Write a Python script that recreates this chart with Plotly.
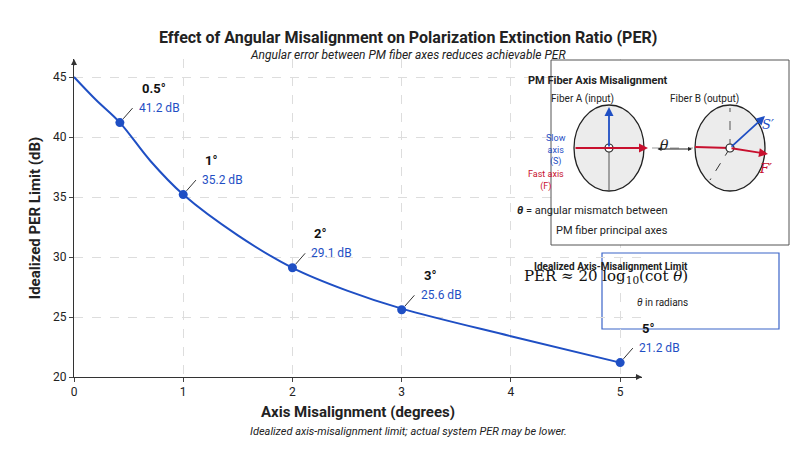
import plotly.graph_objects as go

# data
curve_x = [0, 0.2, 0.42, 0.7, 1.0, 1.5, 2.0, 2.5, 3.0, 4.0, 5.0]
curve_y = [45.0, 43.1, 41.2, 38.0, 35.2, 31.8, 29.1, 27.2, 25.7, 23.4, 21.2]
pt_x = [0.42, 1.0, 2.0, 3.0, 5.0]
pt_y = [41.2, 35.2, 29.1, 25.6, 21.2]
pt_deg = ["0.5°", "1°", "2°", "3°", "5°"]
pt_db = ["41.2 dB", "35.2 dB", "29.1 dB", "25.6 dB", "21.2 dB"]

BLUE = "#1f4fc4"
RED = "#c8102e"
L, R, T, B = 66, 634, 51, 369


def px(x):
    return (x - L) / (R - L)


def py(y):
    return (B - y) / (B - T)


fig = go.Figure()
fig.add_trace(go.Scatter(x=curve_x, y=curve_y, mode="lines", line=dict(color=BLUE, width=2, shape="spline"),
                         showlegend=False, hoverinfo="skip", cliponaxis=False))
fig.add_trace(go.Scatter(x=pt_x, y=pt_y, mode="markers", marker=dict(color=BLUE, size=9),
                         showlegend=False, cliponaxis=False))

ann = []
shapes = []
for x, y, d, v in zip(pt_x, pt_y, pt_deg, pt_db):
    ann.append(dict(x=x, y=y, ax=14, ay=-16, xref="x", yref="y", text="", showarrow=True,
                    arrowhead=0, arrowwidth=1, arrowcolor="#333", standoff=5))
    ann.append(dict(x=x, y=y, xref="x", yref="y", xshift=20, yshift=34, text="<b>" + d + "</b>",
                    showarrow=False, xanchor="left", font=dict(size=13, color="#111")))
    ann.append(dict(x=x, y=y, xref="x", yref="y", xshift=17, yshift=15, text=v,
                    showarrow=False, xanchor="left", font=dict(size=12, color=BLUE)))

# axis arrows
ann.append(dict(x=5.2, y=20, ax=-8, ay=0, xref="x", yref="y", text="", showarrow=True,
                arrowhead=2, arrowsize=1.2, arrowcolor="#333"))
ann.append(dict(x=0, y=46.5, ax=0, ay=8, xref="x", yref="y", text="", showarrow=True,
                arrowhead=2, arrowsize=1.2, arrowcolor="#333"))

# inset box
shapes.append(dict(type="rect", xref="paper", yref="paper", x0=px(543), x1=px(781), y0=py(237), y1=py(52),
                   line=dict(color="#555", width=1), fillcolor="white", layer="above"))
for cx in (601, 722):
    shapes.append(dict(type="circle", xref="paper", yref="paper", x0=px(cx - 35), x1=px(cx + 35),
                       y0=py(140 + 43), y1=py(140 - 43), line=dict(color="#222", width=1.3),
                       fillcolor="#ececec", layer="above"))
shapes.append(dict(type="line", xref="paper", yref="paper", x0=px(601), x1=px(601), y0=py(183), y1=py(140),
                   line=dict(color="#555", width=1), layer="above"))
shapes.append(dict(type="line", xref="paper", yref="paper", x0=px(722), x1=px(722), y0=py(140), y1=py(100),
                   line=dict(color="#555", width=1, dash="dash"), layer="above"))
shapes.append(dict(type="line", xref="paper", yref="paper", x0=px(722), x1=px(702), y0=py(140), y1=py(172),
                   line=dict(color="#333", width=1, dash="dash"), layer="above"))
shapes.append(dict(type="line", xref="paper", yref="paper", x0=px(644), x1=px(685), y0=py(140), y1=py(140),
                   line=dict(color="#999", width=1, dash="dash"), layer="above"))
shapes.append(dict(type="line", xref="paper", yref="paper", x0=px(687), x1=px(722), y0=py(139), y1=py(140),
                   line=dict(color=RED, width=1.8), layer="above"))


def arrow(x0, y0, x1, y1, color, w=1.8, size=1):
    ann.append(dict(x=px(x1), y=py(y1), ax=x0 - x1, ay=y0 - y1, xref="paper", yref="paper",
                    text="", showarrow=True, arrowhead=2, arrowsize=size, arrowwidth=w, arrowcolor=color))


arrow(566, 140, 640, 140, RED)
arrow(601, 140, 601, 99, BLUE)
arrow(722, 140, 757, 108, BLUE)
arrow(722, 140, 760, 146, RED)
ann.append(dict(x=px(684), y=py(141), ax=-36, ay=0, xref="paper", yref="paper",
                text="", showarrow=True, arrowhead=2, startarrowhead=2, arrowside="end+start",
                arrowsize=0.8, arrowwidth=1, arrowcolor="#222"))

# centre dots on top
for cx in (601, 722):
    shapes.append(dict(type="circle", xref="paper", yref="paper", x0=px(cx - 4), x1=px(cx + 4),
                       y0=py(144), y1=py(136), line=dict(color="#222", width=1.2), fillcolor="white",
                       layer="above"))


def txt(x, y, s, size=10, color="#222", family=None):
    f = dict(size=size, color=color)
    if family:
        f["family"] = family
    ann.append(dict(x=px(x), y=py(y), xref="paper", yref="paper", text=s, showarrow=False, font=f))


txt(662, 64, "<b>PM Fiber Axis Misalignment</b>", 11)
txt(608, 83, "Fiber A (input)", 10)
txt(733, 83, "Fiber B (output)", 10)
txt(560, 123, "Slow<br>axis<br>(S)", 9, BLUE)
txt(558, 172, "Fast axis<br>(F)", 9, RED)
txt(663, 127, "<i>θ</i>", 14, family="DejaVu Serif")
txt(768, 107, "<i>S′</i>", 13, BLUE, "DejaVu Serif")
txt(766, 160, "<i>F′</i>", 13, RED, "DejaVu Serif")
txt(662, 202, "<b><i>θ</i></b> = angular mismatch between", 11)
txt(662, 222, "PM fiber principal axes", 11)

# formula box
shapes.append(dict(type="rect", xref="paper", yref="paper", x0=px(594), x1=px(771), y0=py(321), y1=py(245),
                   line=dict(color="#3b64c8", width=1.2), fillcolor="white", layer="below"))
txt(682, 258, "<b>Idealized Axis-Misalignment Limit</b>", 10)
txt(682, 280, "PER ≈ 20 log<sub>10</sub>(cot <i>θ</i>)", 15, "#111", "DejaVu Serif")
txt(682, 302, "<i>θ</i> in radians", 10)

for yy, s, sz in [(18, "<b>Effect of Angular Misalignment on Polarization Extinction Ratio (PER)</b>", 16),
                  (38, "<i>Angular error between PM fiber axes reduces achievable PER</i>", 12),
                  (432, "<i>Idealized axis-misalignment limit; actual system PER may be lower.</i>", 11)]:
    txt(400, yy, s, sz)

fig.update_layout(
    width=800, height=450, plot_bgcolor="white", paper_bgcolor="white",
    margin=dict(l=L, r=800 - R, t=T, b=450 - B),
    font=dict(family="Roboto, Arial, sans-serif", color="#222"),
    annotations=ann, shapes=shapes, showlegend=False,
)
fig.update_xaxes(range=[0, 5.2], tickvals=[0, 1, 2, 3, 4, 5], showgrid=True, gridcolor="#dddddd",
                 griddash="dash", showline=True, linecolor="#333", ticks="outside", ticklen=4,
                 tickfont=dict(size=12), zeroline=False,
                 title=dict(text="<b>Axis Misalignment (degrees)</b>", font=dict(size=15), standoff=8))
fig.update_yaxes(range=[20, 46.5], tickvals=[20, 25, 30, 35, 40, 45], showgrid=True, gridcolor="#dddddd",
                 griddash="dash", showline=True, linecolor="#333", ticks="outside", ticklen=4,
                 tickfont=dict(size=12), zeroline=False,
                 title=dict(text="<b>Idealized PER Limit (dB)</b>", font=dict(size=15), standoff=8))

fig.write_html("out.html")
